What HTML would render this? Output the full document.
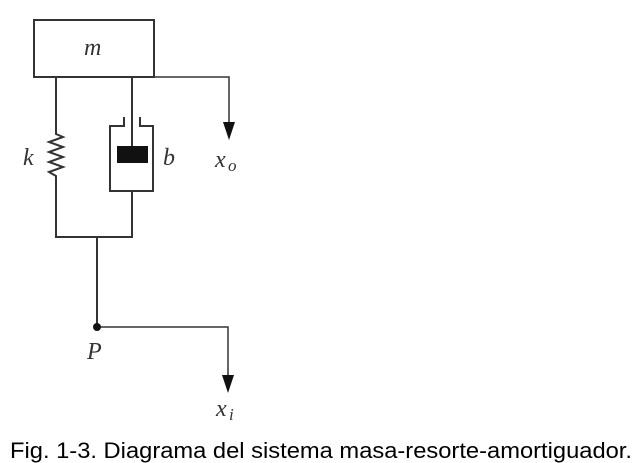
<!DOCTYPE html>
<html><head><meta charset="utf-8"><style>
html,body{margin:0;padding:0;background:#fff;width:639px;height:463px;overflow:hidden}
</style></head><body>
<svg width="639" height="463" viewBox="0 0 639 463" xmlns="http://www.w3.org/2000/svg">
<g fill="none" stroke="#333" stroke-width="2">
<rect x="34" y="20" width="120" height="57"/>
<polyline points="56,77 56,134 63,137 49,142 63,147 49,152 63,157 49,162 63,167 49,172 56,176 56,237 132,237 132,191"/>
<line x1="132" y1="77" x2="132" y2="148"/>
<polyline points="124,117 124,126 110,126 110,191 153,191 153,126 140,126 140,117"/>
<polyline points="154,77 229,77 229,125" stroke-width="1.5"/>
<line x1="97" y1="237" x2="97" y2="327"/>
<polyline points="97,327 228,327 228,380" stroke-width="1.5"/>
</g>
<rect x="117" y="146" width="31" height="17" fill="#111"/>
<circle cx="97" cy="327" r="4" fill="#111"/>
<polygon points="223,122 235,122 229,140" fill="#111"/>
<polygon points="222,375 234,375 228,393" fill="#111"/>
<g font-family="Liberation Serif, serif" font-style="italic" fill="#333" font-size="24">
<text x="84" y="55">m</text>
<text x="23" y="165">k</text>
<text x="163" y="165">b</text>
<text x="215" y="167">x</text><text x="228" y="171" font-size="17">o</text>
<text x="87" y="359">P</text>
<text x="216" y="416">x</text><text x="229" y="420" font-size="17">i</text>
</g>
<text x="10" y="458" font-family="Liberation Sans, sans-serif" font-size="22" fill="#000" textLength="622" lengthAdjust="spacingAndGlyphs">Fig. 1-3. Diagrama del sistema masa-resorte-amortiguador.</text>
</svg>
</body></html>
